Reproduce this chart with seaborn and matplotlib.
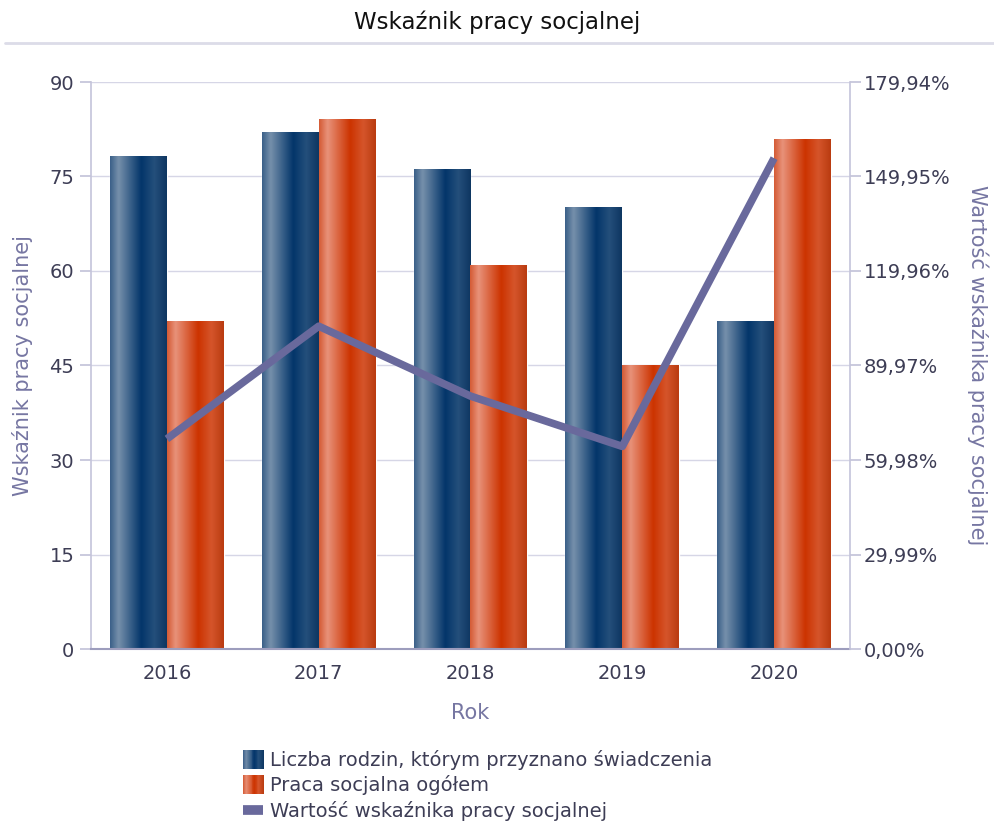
import numpy as np
import pandas as pd
import matplotlib
matplotlib.use("Agg")
import matplotlib.pyplot as plt
import seaborn as sns
from matplotlib.colors import LinearSegmentedColormap
from matplotlib.patches import Rectangle
from matplotlib.legend_handler import HandlerBase
from matplotlib.lines import Line2D

years = ["2016", "2017", "2018", "2019", "2020"]
families = [78.3, 82, 76.2, 70.2, 52]
social_work = [52, 84.2, 61, 45, 81]
indicator = [66.67, 102.44, 80.26, 64.29, 155.77]
left_ticks = [0, 15, 30, 45, 60, 75, 90]
right_ticks = [0.0, 29.99, 59.98, 89.97, 119.96, 149.95, 179.94]
right_tick_labels = ["0,00%", "29,99%", "59,98%", "89,97%", "119,96%", "149,95%", "179,94%"]
series_names = ["Liczba rodzin, którym przyznano świadczenia", "Praca socjalna ogółem",
                "Wartość wskaźnika pracy socjalnej"]

sns.set_theme(style="white")
plt.rcParams['font.family'] = ['DejaVu Sans']

BLUE_STOPS = [(0, '#3a5f88'), (0.15, '#7690ab'), (0.55, '#03356a'), (0.78, '#244f7b'), (1.0, '#0e3661')]
ORANGE_STOPS = [(0, '#d45a34'), (0.15, '#e8927a'), (0.55, '#cc3300'), (0.78, '#d5552b'), (1.0, '#b93b10')]
blue_cmap = LinearSegmentedColormap.from_list('b', BLUE_STOPS)
orange_cmap = LinearSegmentedColormap.from_list('o', ORANGE_STOPS)
LINE_COLOR = '#69699c'
AXIS_COLOR = '#c4c4da'
TEXT_COLOR = '#3d3d55'
LABEL_COLOR = '#7676a2'

df = pd.DataFrame({
    'Rok': years * 2,
    'value': families + social_work,
    'series': [series_names[0]] * len(years) + [series_names[1]] * len(years),
})

fig = plt.figure(figsize=(9.94, 8.22), dpi=100)
ax = fig.add_axes([91/994, 1 - 649/822, (850 - 91)/994, (649 - 82)/822])

sns.barplot(data=df, x='Rok', y='value', hue='series', order=years,
            hue_order=series_names[:2], palette=['#03356a', '#cc3300'],
            width=0.75, ax=ax, legend=False, saturation=1)

grad = np.linspace(0, 1, 256).reshape(1, -1)
n = len(years)
for i, p in enumerate(ax.patches[:2 * n]):
    cmap = blue_cmap if i < n else orange_cmap
    x0, y0 = p.get_x(), p.get_y()
    w, h = p.get_width(), p.get_height()
    im = ax.imshow(grad, cmap=cmap, aspect='auto', extent=[x0, x0 + w, y0, y0 + h],
                   zorder=p.get_zorder() + 0.1, interpolation='bicubic')
    im.set_clip_path(p)

ax.set_xlim(-0.5, n - 0.5)
ax.set_ylim(0, 90)
ax.set_yticks(left_ticks)
ax.grid(axis='y', color='#d6d6e6', linewidth=1)
ax.set_axisbelow(True)
for s in ['top', 'right']:
    ax.spines[s].set_visible(False)
ax.spines['left'].set_color(AXIS_COLOR)
ax.spines['left'].set_linewidth(1.2)
ax.spines['bottom'].set_color('#9d9dbd')
ax.spines['bottom'].set_linewidth(1.5)
ax.tick_params(axis='y', which='both', left=True, length=8, color=AXIS_COLOR,
               labelsize=14, labelcolor=TEXT_COLOR, pad=4)
ax.tick_params(axis='x', bottom=False, labelsize=14, labelcolor=TEXT_COLOR, pad=5)
ax.set_xlabel('Rok', fontsize=15, color=LABEL_COLOR, labelpad=14)
ax.set_ylabel('Wskaźnik pracy socjalnej', fontsize=15, color=LABEL_COLOR, labelpad=12)

ax2 = ax.twinx()
sns.lineplot(x=np.arange(n), y=indicator, ax=ax2, color=LINE_COLOR, linewidth=5.5,
             sort=False, legend=False)
ax2.lines[-1].set_solid_capstyle('butt')
ax2.set_ylim(0, right_ticks[-1])
ax2.set_yticks(right_ticks)
ax2.set_yticklabels(right_tick_labels)
ax2.set_xlim(-0.5, n - 0.5)
ax2.grid(False)
for s in ['top', 'left', 'bottom']:
    ax2.spines[s].set_visible(False)
ax2.spines['right'].set_color(AXIS_COLOR)
ax2.spines['right'].set_linewidth(1.2)
ax2.tick_params(axis='y', right=True, length=8, color=AXIS_COLOR, labelsize=14,
                labelcolor=TEXT_COLOR, pad=2)
ax2.set_ylabel('Wartość wskaźnika pracy socjalnej', fontsize=15, color=LABEL_COLOR,
               rotation=270, labelpad=27)

fig.text(0.5, 1 - 22/822, 'Wskaźnik pracy socjalnej', ha='center', va='center',
         fontsize=16.5, color='#111111')
fig.add_artist(Line2D([5/994, 1.0], [1 - 43/822] * 2, color='#dcdce8', linewidth=2))


class GradientHandler(HandlerBase):
    def __init__(self, cmap):
        super().__init__()
        self.cmap = cmap

    def create_artists(self, legend, orig_handle, xdescent, ydescent, width, height,
                       fontsize, trans):
        arts = []
        k = 24
        for j in range(k):
            r = Rectangle((-xdescent + width * j / k, -ydescent - 2), width / k + 0.3, height + 4,
                          facecolor=self.cmap((j + 0.5) / k), edgecolor='none', transform=trans)
            arts.append(r)
        return arts


h1 = Rectangle((0, 0), 1, 1)
h2 = Rectangle((0, 0), 1, 1)
h3 = Line2D([0], [0], color=LINE_COLOR, linewidth=7, solid_capstyle='butt')
fig.legend([h1, h2, h3], series_names, loc='upper left',
           bbox_to_anchor=(243/994, 1 - 750/822), frameon=False,
           handler_map={h1: GradientHandler(blue_cmap), h2: GradientHandler(orange_cmap)},
           fontsize=14, labelcolor=TEXT_COLOR, handlelength=1.05, handletextpad=0.35,
           labelspacing=0.28, borderpad=0, borderaxespad=0)

fig.savefig('out.png', dpi=100)
